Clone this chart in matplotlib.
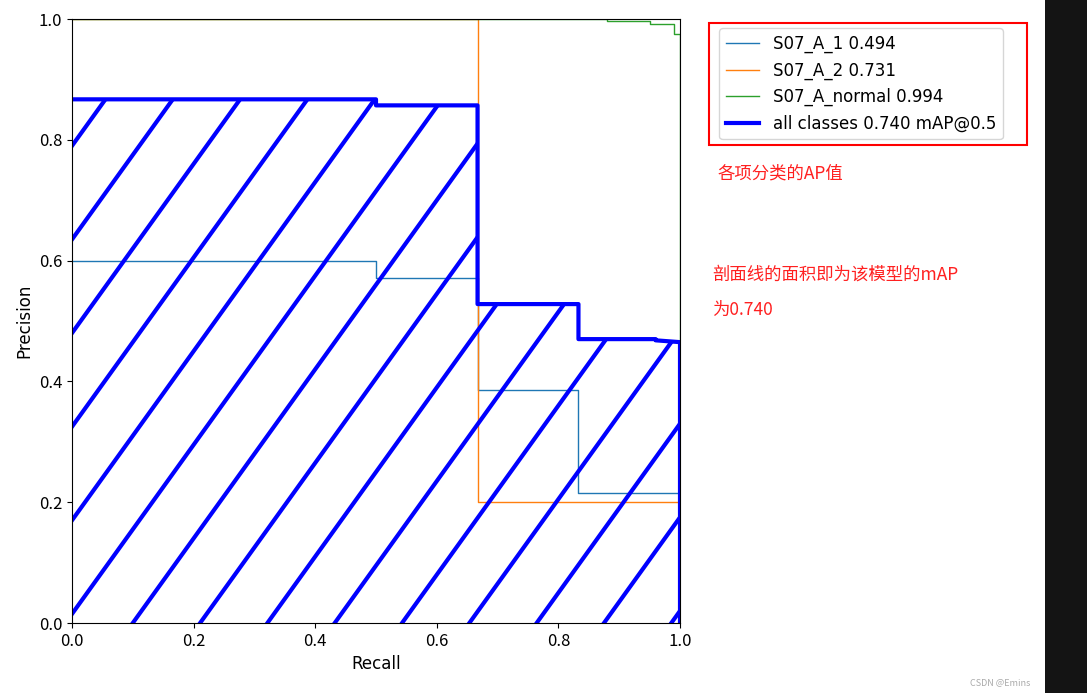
import matplotlib
matplotlib.use("Agg")
import matplotlib.pyplot as plt
import numpy as np
from matplotlib.patches import Rectangle, Polygon

plt.rcParams['font.family'] = ['Noto Sans CJK SC', 'DejaVu Sans']

# step curves: recall breakpoints, precision values
r1 = [0, 0.5, 0.5, 0.667, 0.667, 0.833, 0.833, 1.0]
p1 = [0.6, 0.6, 0.572, 0.572, 0.385, 0.385, 0.215, 0.215]
r2 = [0, 0.667, 0.667, 1.0, 1.0]
p2 = [1.0, 1.0, 0.2, 0.2, 0.0]
r3 = [0, 0.88, 0.88, 0.95, 0.95, 0.99, 0.99, 1.0, 1.0]
p3 = [1.0, 1.0, 0.997, 0.997, 0.992, 0.992, 0.975, 0.975, 0.0]
ra = [0, 0.5, 0.5, 0.667, 0.667, 0.833, 0.833, 0.96, 0.96, 1.0, 1.0]
pa = [0.867, 0.867, 0.857, 0.857, 0.528, 0.528, 0.47, 0.47, 0.468, 0.465, 0.0]
labels = ['S07_A_1 0.494', 'S07_A_2 0.731', 'S07_A_normal 0.994', 'all classes 0.740 mAP@0.5']

fig = plt.figure(figsize=(10.87, 6.93), dpi=100)
ax = fig.add_axes([72/1087, 70/693, 608/1087, 604/693])
ax.plot(r1, p1, lw=1, color='#1f77b4', label=labels[0])
ax.plot(r2, p2, lw=1, color='#ff7f0e', label=labels[1])
ax.plot(r3, p3, lw=1, color='#2ca02c', label=labels[2])
ax.plot(ra, pa, lw=3, color='blue', label=labels[3])

poly = Polygon(list(zip(ra, pa)) + [(0, 0)], closed=True, fc='none', ec='none')
ax.add_patch(poly)
slope = 1.4
for b in np.arange(-1.6, 1.0, 0.155) + 0.015 + 0.155 * 10:
    pass
for k in range(-12, 7):
    b = 0.015 + k * 0.155
    ln, = ax.plot([0, 1], [b, slope + b], color='blue', lw=3)
    ln.set_clip_path(poly)

ax.set_xlim(0, 1); ax.set_ylim(0, 1)
ax.set_xlabel('Recall', fontsize=12, family='DejaVu Sans')
ax.set_ylabel('Precision', fontsize=12, family='DejaVu Sans')
ax.tick_params(labelsize=12)
leg = ax.legend(loc='upper left', bbox_to_anchor=(711/1087, 1 - 20/693),
                bbox_transform=fig.transFigure, fontsize=12, frameon=True)
for t in leg.get_texts():
    t.set_family('DejaVu Sans')

fig.patches.append(Rectangle((709/1087, 1 - 145/693), 318/1087, 122/693,
                             transform=fig.transFigure, fill=False, ec='red', lw=1.5))
fig.patches.append(Rectangle((1045/1087, 0), 42/1087, 1,
                             transform=fig.transFigure, fc='#141414', ec='none'))
fig.text(718/1087, 1 - 173/693, '各项分类的AP值', color='#ff2020', fontsize=12.5, va='center')
fig.text(712/1087, 1 - 275/693, '剖面线的面积即为该模型的mAP', color='#ff2020', fontsize=12.5, va='center')
fig.text(712/1087, 1 - 310/693, '为0.740', color='#ff2020', fontsize=12.5, va='center')
fig.text(1030/1087, 1 - 683/693, 'CSDN @Emins', color='#aaaaaa', fontsize=6.5, ha='right', va='center')
fig.savefig('out.png', dpi=100)
